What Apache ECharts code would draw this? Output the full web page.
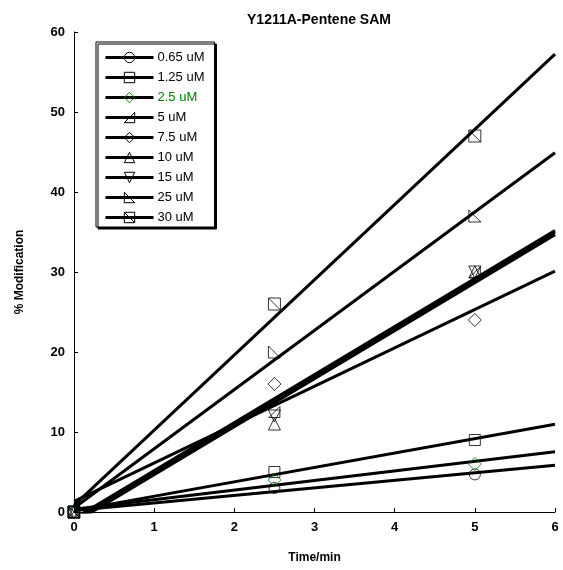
<!DOCTYPE html>
<html>
<head>
<meta charset="utf-8">
<script src="https://cdn.jsdelivr.net/npm/echarts@6/dist/echarts.min.js"></script>
<style>html,body{margin:0;padding:0;background:#fff}#c{width:563px;height:570px}</style>
</head>
<body>
<div id="c"></div>
<script>
var title = 'Y1211A-Pentene SAM';
var times = [0, 2.5, 5];
var concentrations = ['0.65 uM','1.25 uM','2.5 uM','5 uM','7.5 uM','10 uM','15 uM','25 uM','30 uM'];
var mod_065 = [0, 3, 4.7];
var mod_125 = [0, 5, 9];
var mod_25  = [0, 4, 6];
var mod_5   = [0, 12.5, 30];
var mod_75  = [0, 16, 24];
var mod_10  = [0, 11, 30];
var mod_15  = [0, 12, 30];
var mod_25u = [0, 20, 37];
var mod_30  = [0, 26, 47];
var fitX = [0, 6];
var fitStart = [0.2, 0.17, 0.33, -0.83, 1.33, -1.33, -1, 0.5, 0.83];
var fitEnd   = [5.85, 10.97, 7.53, 35.17, 30.1, 34.67, 35, 44.9, 57.23];
var xTicks = [0,1,2,3,4,5,6];
var yTicks = [0,10,20,30,40,50,60];

var allMods = [mod_065, mod_125, mod_25, mod_5, mod_75, mod_10, mod_15, mod_25u, mod_30];
var symbols = [
  'circle','rect','diamond',
  'path://M1,0 L1,1 L0,1 Z',
  'diamond','triangle',
  'path://M0,0 L1,0 L0.5,1 Z',
  'path://M0,0 L0,1 L1,1 Z',
  'path://M0,0 L1,0 L1,1 L0,1 Z M0,0 L1,1'
];
var markColors = ['#000','#000','#008000','#000','#000','#000','#000','#000','#000'];
var symSizes = [11,11,13,11,13,12,12,12,12];

var series = [];
concentrations.forEach(function(name, i){
  series.push({
    name: name, type: 'line', showSymbol: false, symbol: symbols[i], z: 2,
    data: [[fitX[0], fitStart[i]], [fitX[1], fitEnd[i]]],
    lineStyle: {color: '#000', width: 3},
    itemStyle: {color: 'rgba(0,0,0,0)', borderColor: markColors[i], borderWidth: 1},
    silent: true, animation: false, clip: true
  });
});
concentrations.forEach(function(name, i){
  series.push({
    name: name + ' data', type: 'scatter', symbol: symbols[i], symbolSize: symSizes[i], z: 5,
    data: times.map(function(t, j){ return [t, allMods[i][j]]; }),
    itemStyle: {color: 'rgba(0,0,0,0)', borderColor: markColors[i], borderWidth: 1},
    animation: false
  });
});

var chart = echarts.init(document.getElementById('c'), null, {renderer: 'canvas'});
var font = 'Liberation Sans, Arial, sans-serif';
chart.setOption({
  animation: false,
  textStyle: {fontFamily: font},
  title: {text: title, left: 314, top: 8, textAlign: 'center',
    textStyle: {fontFamily: font, fontSize: 14, fontWeight: 'bold', color: '#000'}},
  grid: {left: 74, right: 8, top: 32, bottom: 58},
  legend: {
    orient: 'vertical', left: 96, top: 42,
    padding: [9, 10, 3, 8],
    itemWidth: 48, itemHeight: 13, itemGap: 7,
    backgroundColor: '#fff', borderColor: '#000', borderWidth: 1,
    shadowColor: '#000', shadowOffsetX: 2, shadowOffsetY: 2, shadowBlur: 0,
    textStyle: {fontFamily: font, fontSize: 13, color: '#000', padding: [0,0,0,-1]},
    data: concentrations.map(function(n, i){
      return {name: n,
        itemStyle: {color: 'rgba(0,0,0,0)', borderColor: markColors[i], borderWidth: 1},
        lineStyle: {color: '#000', width: 3},
        textStyle: {color: markColors[i]}};
    })
  },
  xAxis: {
    type: 'value', min: xTicks[0], max: xTicks[xTicks.length-1], interval: 1,
    name: 'Time/min', nameLocation: 'middle', nameGap: 40,
    nameTextStyle: {fontFamily: font, fontSize: 12, fontWeight: 'bold', color: '#000'},
    axisLine: {lineStyle: {color: '#000', width: 1}},
    axisTick: {inside: true, length: 4, lineStyle: {color: '#000'}},
    axisLabel: {fontFamily: font, fontSize: 13, fontWeight: 'bold', color: '#000', margin: 9},
    splitLine: {show: false}
  },
  yAxis: {
    type: 'value', min: yTicks[0], max: yTicks[yTicks.length-1], interval: 10,
    name: '% Modification', nameLocation: 'middle', nameGap: 48,
    nameTextStyle: {fontFamily: font, fontSize: 12, fontWeight: 'bold', color: '#000'},
    axisLine: {show: true, lineStyle: {color: '#000', width: 1}},
    axisTick: {show: true, inside: true, length: 4, lineStyle: {color: '#000'}},
    axisLabel: {fontFamily: font, fontSize: 13, fontWeight: 'bold', color: '#000', margin: 9},
    splitLine: {show: false}
  },
  series: series
});
</script>
</body>
</html>
